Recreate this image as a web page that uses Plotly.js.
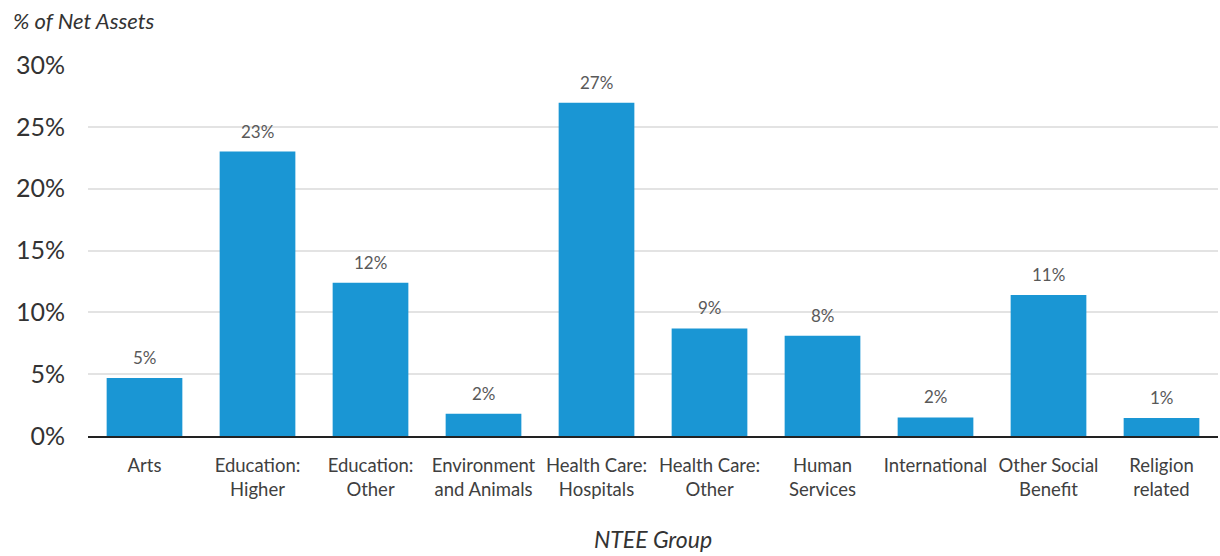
<!DOCTYPE html>
<html><head><meta charset="utf-8">
<script src="https://cdn.plot.ly/plotly-3.0.1.min.js"></script>
<style>html,body{margin:0;padding:0;background:#fff}#chart{width:1220px;height:556px}</style>
</head><body><div id="chart"></div>
<script>
const categories = ["Arts","Education:<br>Higher","Education:<br>Other","Environment<br>and Animals","Health Care:<br>Hospitals","Health Care:<br>Other","Human<br>Services","International","Other Social<br>Benefit","Religion<br>related"];
const values = [4.7, 23.0, 12.4, 1.8, 26.95, 8.7, 8.1, 1.5, 11.4, 1.45];
const labels = ["5%","23%","12%","2%","27%","9%","8%","2%","11%","1%"];
const yTickVals = [0,5,10,15,20,25,30];
const yTickText = ["0%","5%","10%","15%","20%","25%","30%"];

const valueAnnotations = categories.map((c, i) => ({
  x: c, y: values[i], xref: 'x', yref: 'y', text: labels[i],
  showarrow: false, yanchor: 'bottom', yshift: 8,
  font: {family: 'Lato, sans-serif', size: 17, color: '#595959'}
}));

Plotly.newPlot('chart', [{
  type: 'bar', x: categories, y: values,
  marker: {color: '#1A96D4', line: {width: 0}},
  hoverinfo: 'none'
}], {
  width: 1220, height: 556,
  margin: {l: 88, r: 2, t: 65, b: 120},
  paper_bgcolor: '#fff', plot_bgcolor: '#fff',
  bargap: 0.33,
  font: {family: 'Lato, sans-serif', color: '#404040'},
  showlegend: false,
  xaxis: {
    tickfont: {size: 18.5, color: '#404040'},
    showline: true, linecolor: '#222', linewidth: 2,
    showgrid: false, ticks: '', ticklabelstandoff: 12,
    title: {text: '<i>NTEE Group</i>', font: {size: 23, color: '#333'}, standoff: 33}
  },
  yaxis: {
    range: [0, 30], tickvals: yTickVals, ticktext: yTickText,
    tickfont: {size: 25, color: '#333'},
    showgrid: true, gridcolor: '#e3e3e3', gridwidth: 2,
    zeroline: false, showline: false, ticks: '', ticklabelstandoff: 22
  },
  annotations: valueAnnotations.concat([{
    text: '<i>% of Net Assets</i>', xref: 'paper', yref: 'paper',
    x: -0.068, y: 1.0, yshift: 45, xanchor: 'left', yanchor: 'middle', showarrow: false,
    font: {size: 22, color: '#333'}
  }])
}, {displayModeBar: false, staticPlot: true});
</script></body></html>
